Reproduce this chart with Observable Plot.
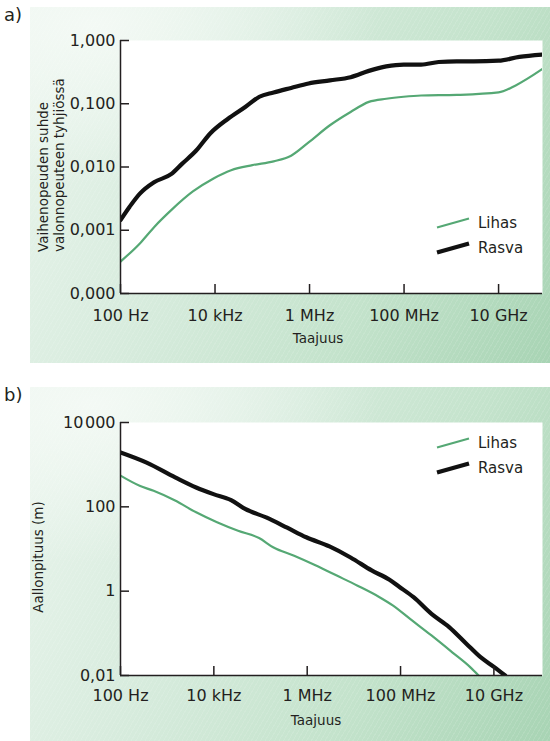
<!DOCTYPE html>
<html>
<head>
<meta charset="utf-8">
<script src="https://cdn.jsdelivr.net/npm/d3@7"></script>
<script src="https://cdn.jsdelivr.net/npm/@observablehq/plot@0.6"></script>
<style>
  html, body { margin: 0; padding: 0; }
  body { width: 550px; height: 741px; position: relative; overflow: hidden; background: #ffffff;
         font-family: "DejaVu Sans", sans-serif; color: #231f20; }
  .bg { position: absolute; left: 30px; width: 520px;
        background:
          repeating-linear-gradient(120deg, rgba(255,255,255,0.10) 0px, rgba(255,255,255,0.10) 1px, rgba(255,255,255,0) 1px, rgba(255,255,255,0) 4px),
          radial-gradient(ellipse 55% 45% at 12% 5%, rgba(245,250,246,0.9) 0%, rgba(245,250,246,0) 100%),
          linear-gradient(115deg, #eaf5ed 0%, #d8ecde 35%, #c4e3cc 68%, #a8d4b4 100%); }
  .abs { position: absolute; white-space: nowrap; }
  .chart { position: absolute; left: 0; }
</style>
</head>
<body>
<script>
// ---------- shared axis data ----------
const xTickValues = [1e2, 1e4, 1e6, 1e8, 1e10];
const xTickLabels = ["100 Hz", "10 kHz", "1 MHz", "100 MHz", "10 GHz"];
const xDomainA = [1e2, 8.5e10];
const xDomainB = [1e2, 1.1e11];

// panel a) y axis
const yTickValuesA = [1, 0.1, 0.01, 0.001, 0.0001];
const yTickLabelsA = ["1,000", "0,100", "0,010", "0,001", "0,000"];
// panel b) y axis
const yTickValuesB = [10000, 100, 1, 0.01];
const yTickLabelsB = ["10\u200A000", "100", "1", "0,01"];

const seriesNames = ["Lihas", "Rasva"];
const seriesColors = ["#55a874", "#111111"];

// ---------- panel a) phase velocity / c ----------
const freqA_lihas  = [100, 257, 513, 1200, 3400, 9300, 21900, 61700, 174000, 407000, 955000, 2.7e6, 7.4e6, 1.8e7, 4.2e7, 9.8e7, 2.3e8, 1.3e9, 1e10, 2.3e10, 8.5e10];
const ratioA_lihas = [0.00032, 0.00062, 0.00112, 0.0021, 0.0041, 0.0066, 0.0089, 0.0107, 0.0123, 0.0151, 0.0245, 0.0457, 0.0741, 0.107, 0.120, 0.129, 0.135, 0.138, 0.151, 0.195, 0.355];

const freqA_rasva  = [100, 155, 257, 513, 1200, 2000, 4000, 7900, 18600, 43600, 87000, 174000, 407000, 955000, 2.7e6, 7.4e6, 1.8e7, 4.2e7, 9.8e7, 2.3e8, 5.4e8, 1.3e9, 3.0e9, 1e10, 2.75e10, 8.5e10];
const ratioA_rasva = [0.00145, 0.00234, 0.0038, 0.00575, 0.00776, 0.0112, 0.0182, 0.0339, 0.0575, 0.089, 0.129, 0.151, 0.178, 0.209, 0.234, 0.263, 0.331, 0.389, 0.417, 0.417, 0.457, 0.468, 0.468, 0.479, 0.55, 0.60];

// ---------- panel b) wavelength (m) ----------
const freqB_lihas  = [100, 257, 513, 1480, 4170, 11700, 33000, 93000, 186000, 525000, 1.5e6, 4.3e6, 1.2e7, 3.4e7, 6.8e7, 1.6e8, 4.6e8, 1.3e9, 3.1e9, 4.7e9];
const waveB_lihas  = [550, 316, 240, 141, 74, 43, 27, 18.2, 11, 6.9, 4.1, 2.34, 1.35, 0.74, 0.46, 0.22, 0.089, 0.035, 0.0158, 0.01];

const freqB_rasva  = [100, 363, 1480, 4170, 9800, 23400, 46800, 132000, 372000, 955000, 3.0e6, 8.5e6, 2.4e7, 5.8e7, 9.5e7, 1.9e8, 4.6e8, 1.1e9, 2.6e9, 5.1e9, 1.02e10, 1.74e10];
const waveB_rasva  = [1950, 1120, 500, 288, 200, 145, 89, 56, 32, 19, 11.5, 6.3, 3.1, 1.86, 1.26, 0.72, 0.29, 0.141, 0.056, 0.0275, 0.0158, 0.01];

const INK = "#231f20";

function rows(fs, vs) { return fs.map((f, i) => ({f, v: vs[i]})); }

function makeChart({height, xDomain, yDomain, yTicks, yLabels, lihas, rasva, xLabelPad}) {
  const plotH = 253, width = 550, mL = 120, mR = 8;
  const plotW = width - mL - mR;
  const tick = 9;
  return Plot.plot({
    width,
    height,
    marginLeft: mL,
    marginRight: mR,
    marginTop: 40,
    marginBottom: height - 40 - plotH,
    style: {background: "transparent", fontFamily: "DejaVu Sans, sans-serif", fontSize: "16px", color: INK, overflow: "visible"},
    x: {type: "log", domain: xDomain, label: null},
    y: {type: "log", domain: yDomain, label: null},
    marks: [
      Plot.frame({fill: "white", stroke: null}),
      Plot.line(lihas, {x: "f", y: "v", stroke: seriesColors[0], strokeWidth: 2.2, curve: "monotone-x", clip: true}),
      Plot.line(rasva, {x: "f", y: "v", stroke: seriesColors[1], strokeWidth: 4.2, curve: "monotone-x", clip: true}),
      // inward tick marks
      Plot.ruleX(xTickValues, {x: d => d, insetTop: plotH - tick, stroke: INK, strokeWidth: 1.5}),
      Plot.ruleY(yTicks, {y: d => d, insetRight: plotW - tick, stroke: INK, strokeWidth: 1.5}),
      // tick labels
      Plot.axisX(xTickValues, {tickSize: 0, tickPadding: xLabelPad, tickFormat: d => xTickLabels[xTickValues.indexOf(d)], fill: INK, label: null}),
      Plot.axisY(yTicks, {tickSize: 0, tickPadding: 5, tickFormat: d => yLabels[yTicks.indexOf(d)], fill: INK, label: null}),
      // axis lines
      Plot.ruleX([xDomain[0]], {stroke: INK, strokeWidth: 1.5}),
      Plot.ruleY([yDomain[0]], {stroke: INK, strokeWidth: 1.5})
    ]
  });
}

function addDiv(html, css) {
  const d = document.createElement("div");
  d.className = "abs";
  d.innerHTML = html;
  Object.assign(d.style, css);
  document.body.appendChild(d);
  return d;
}

function addLegend(top) {
  const svgNS = "http://www.w3.org/2000/svg";
  const svg = document.createElementNS(svgNS, "svg");
  svg.setAttribute("width", 120);
  svg.setAttribute("height", 60);
  svg.style.position = "absolute";
  svg.style.left = "430px";
  svg.style.top = top + "px";
  seriesNames.forEach((name, i) => {
    const y = 12 + i * 25;
    const line = document.createElementNS(svgNS, "line");
    line.setAttribute("x1", 7); line.setAttribute("y1", y + 4.5);
    line.setAttribute("x2", 39); line.setAttribute("y2", y - 4.5);
    line.setAttribute("stroke", seriesColors[i]);
    line.setAttribute("stroke-width", i === 0 ? 2.2 : 4.2);
    svg.appendChild(line);
    const t = document.createElementNS(svgNS, "text");
    t.setAttribute("x", 48); t.setAttribute("y", y);
    t.setAttribute("dy", "0.36em");
    t.setAttribute("fill", INK);
    t.setAttribute("font-family", "DejaVu Sans, sans-serif");
    t.setAttribute("font-size", "15px");
    t.textContent = name;
    svg.appendChild(t);
  });
  document.body.appendChild(svg);
}

// backgrounds
const bgA = document.createElement("div"); bgA.className = "bg"; bgA.style.top = "7px"; bgA.style.height = "356px"; document.body.appendChild(bgA);
const bgB = document.createElement("div"); bgB.className = "bg"; bgB.style.top = "387px"; bgB.style.height = "354px"; document.body.appendChild(bgB);

// charts
const chartA = makeChart({height: 340, xDomain: xDomainA, yDomain: [1e-4, 1], yTicks: yTickValuesA, yLabels: yTickLabelsA,
  lihas: rows(freqA_lihas, ratioA_lihas), rasva: rows(freqA_rasva, ratioA_rasva), xLabelPad: 16});
chartA.classList.add("chart"); chartA.style.top = "0px";
document.body.appendChild(chartA);

const chartB = makeChart({height: 361, xDomain: xDomainB, yDomain: [0.01, 10000], yTicks: yTickValuesB, yLabels: yTickLabelsB,
  lihas: rows(freqB_lihas, waveB_lihas), rasva: rows(freqB_rasva, waveB_rasva), xLabelPad: 14});
chartB.classList.add("chart"); chartB.style.top = "382px";
document.body.appendChild(chartB);

// panel letters
addDiv("a)", {left: "4px", top: "5px", fontSize: "18px", lineHeight: "20px"});
addDiv("b)", {left: "4px", top: "385px", fontSize: "18px", lineHeight: "20px"});

// x titles
addDiv("Taajuus", {left: "318px", top: "338px", fontSize: "13.5px", lineHeight: "16px", transform: "translate(-50%,-50%)"});
addDiv("Taajuus", {left: "316px", top: "720px", fontSize: "13.5px", lineHeight: "16px", transform: "translate(-50%,-50%)"});

// y titles (rotated, start-aligned at bottom)
addDiv("Vaihenopeuden suhde<br>valonnopeuteen tyhjiössä",
  {left: "35px", top: "252px", fontSize: "13.5px", lineHeight: "16px", textAlign: "left", transformOrigin: "0 0", transform: "rotate(-90deg)"});
addDiv("Aallonpituus (m)",
  {left: "38px", top: "557px", fontSize: "13.5px", lineHeight: "16px", transform: "translate(-50%,-50%) rotate(-90deg)"});

// legends
addLegend(211);
addLegend(431);
</script>
</body>
</html>
